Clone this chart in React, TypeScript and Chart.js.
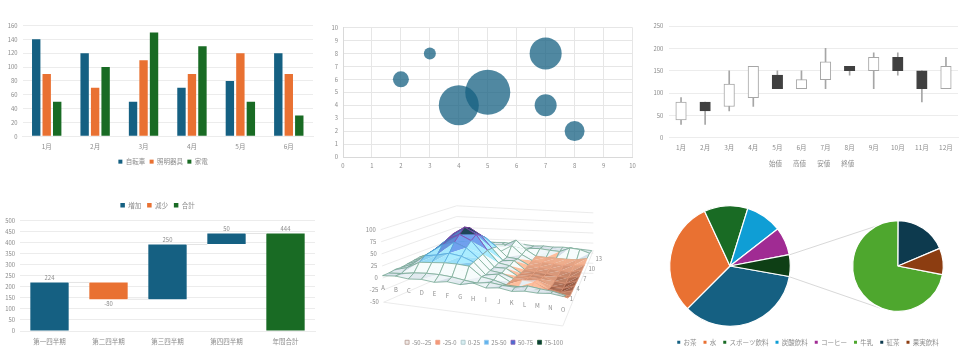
import React, { useEffect, useRef } from "react";
import { Chart, registerables } from "chart.js";

Chart.register(...registerables);
Chart.defaults.font.family = '"Noto Sans CJK JP", "Noto Sans", sans-serif';
Chart.defaults.font.size = 6.5;
Chart.defaults.color = "#8c8c8c";

// ---------- Data ----------
const salesMonths = ["1月", "2月", "3月", "4月", "5月", "6月"];
const bicycles = [140, 120, 50, 70, 80, 120];
const lighting = [90, 70, 110, 90, 120, 90];
const appliances = [50, 100, 150, 130, 50, 30];

const bubbleX = [2, 3, 4, 5, 7, 7, 8];
const bubbleY = [6, 8, 4, 5, 8, 4, 2];
const bubbleR = [8, 6, 20, 22.5, 16, 11, 10];

const stockMonths = ["1月", "2月", "3月", "4月", "5月", "6月", "7月", "8月", "9月", "10月", "11月", "12月"];
const stockOpen = [40, 80, 70, 90, 140, 110, 130, 160, 150, 180, 150, 110];
const stockHigh = [90, 80, 150, 160, 150, 150, 200, 160, 190, 190, 150, 180];
const stockLow = [30, 30, 60, 70, 110, 110, 110, 140, 110, 140, 80, 110];
const stockClose = [80, 60, 120, 160, 110, 130, 170, 150, 180, 150, 110, 160];
const stockSeries = ["始値", "高値", "安値", "終値"];

const quarterLabels = ["第一四半期", "第二四半期", "第三四半期", "第四四半期", "年間合計"];
const riseBars = [[0, 220], null, [144, 392], [394, 442], null];
const fallBars = [null, [144, 220], null, null, null];
const totalBars = [null, null, null, null, [0, 442]];
const barLabels = ["224", "-80", "250", "50", "444"];
const barLabelLevels = [220, 144, 392, 442, 442];
const connectorLevels = [220, 144, 392, 442];

const surfaceColumns = ["A", "B", "C", "D", "E", "F", "G", "H", "I", "J", "K", "L", "M", "N", "O"];
const surfaceRows = ["1", "4", "7", "10", "13"];
const surfaceBands = ["-50--25", "-25-0", "0-25", "25-50", "50-75", "75-100"];
const surfaceZ = [
  [5, 7, 4, 6, 3, 7, 4, 10, 3, 6, 2, 5, 4, 6, 3],
  [4, 6, 10, 12, 12, 10, 6, 3, 7, 4, 3, 8, 5, 3, -2],
  [5, 12, 26, 28, 30, 30, 28, 9, 5, -2, -3, -4, -6, -8, -14],
  [3, 14, 34, 38, 44, 40, 30, 6, 10, -3, 3, 2, -12, -16, -18],
  [4, 15, 36, 54, 62, 52, 32, 8, 5, -4, -5, -2, -18, -22, -16],
  [5, 16, 38, 62, 74, 62, 34, 8, 8, -6, -7, -8, -20, -22, -14],
  [6, 16, 40, 68, 85, 70, 36, 10, 6, -8, -9, -10, -18, -20, -12],
  [4, 15, 38, 62, 78, 62, 34, 8, 10, -8, -10, -12, -16, -16, -10],
  [6, 14, 30, 50, 56, 50, 30, 8, 6, -6, -8, -10, -12, -12, -6],
  [3, 12, 22, 30, 34, 30, 12, 28, 8, -4, -6, -7, -8, -6, -3],
  [5, 8, 12, 16, 18, 18, 20, 34, 12, -2, -3, -3, -3, -2, 3],
  [4, 6, 8, 8, 10, 8, 8, 6, 7, 8, 6, 5, 16, 14, 7],
  [3, 5, 4, 6, 5, 7, 5, 6, 4, 6, 5, 7, 6, 5, 4],
];

const drinkLegend = ["お茶", "水", "スポーツ飲料", "炭酸飲料", "コーヒー", "牛乳", "紅茶", "果実飲料"];
const drinkLegendColors = ["#156082", "#E97132", "#196B24", "#0F9ED5", "#A02B93", "#4EA72E", "#0D3A4E", "#8C3D11"];
const mainPieLabels = ["お茶", "水", "スポーツ飲料", "炭酸飲料", "コーヒー", "その他"];
const mainPieValues = [34.7, 30.6, 11.7, 9.7, 7.5, 5.8];
const mainPieColors = ["#156082", "#E97132", "#196B24", "#0F9ED5", "#A02B93", "#0E3F15"];
const subPieLabels = ["牛乳", "紅茶", "果実飲料"];
const subPieValues = [72, 18.6, 9.4];
const subPieColors = ["#4EA72E", "#0D3A4E", "#8C3D11"];

// ---------- Helpers ----------
const BLUE = "#156082";
const ORANGE = "#E97132";
const GREEN = "#196B24";
const GRID = "#ececec";
const FS = 6.5;
const NUM_FS = 5.9;
const GREY = "#8c8c8c";

const ticks = { color: GREY, font: { size: FS }, autoSkip: false, maxRotation: 0 };
const numTicks = { color: GREY, font: { size: NUM_FS }, autoSkip: false, maxRotation: 0 };
const grid = { color: GRID, drawTicks: false };
const noGrid = { display: false, drawTicks: false };

// Chart.js: a bottom legend is lineHeight + padding + 10 tall, its text starts padding below its top.
function bottomLegend(centerY: number, canvasH: number, plotBottom: number, p: number, fs = FS) {
  const lh = fs * 1.2;
  const top = centerY - p - lh / 2;
  return { top, padBottom: canvasH - top - (lh + p + 10), axisH: top - plotBottom };
}
const fixW = (w: number) => (s: any) => { s.width = w; };
const fixH = (h: number) => (s: any) => { s.height = h; };
// An empty axis on the right keeps the plot's right edge free of the full-width legend's centring.
const rightSpacer = (w: number) => ({
  position: "right", display: true, grid: { display: false, drawTicks: false }, border: { display: false },
  ticks: { display: false }, afterFit: fixW(w),
});

function base(extra: any) {
  return { responsive: false, maintainAspectRatio: false, animation: false, ...extra };
}

// ---------- Chart 1: clustered bars ----------
function clusteredConfig() {
  const lg = bottomLegend(161, 180, 135, 4.5);
  return {
    type: "bar",
    data: {
      labels: salesMonths,
      datasets: [
        { label: "自転車", data: bicycles, backgroundColor: BLUE },
        { label: "照明器具", data: lighting, backgroundColor: ORANGE },
        { label: "家電", data: appliances, backgroundColor: GREEN },
      ],
    },
    options: base({
      layout: { padding: { top: 25.5, right: 0, left: 0, bottom: lg.padBottom } },
      datasets: { bar: { categoryPercentage: 0.65, barPercentage: 0.8 } },
      scales: {
        x: { grid: noGrid, border: { color: GRID }, ticks: { ...ticks, padding: 6 }, afterFit: fixH(lg.axisH) },
        y: { min: 0, max: 160, grid, border: { display: false }, ticks: { ...numTicks, stepSize: 20, padding: 5 }, afterFit: fixW(22.5) },
        spacer: rightSpacer(13),
      },
      plugins: { legend: { position: "bottom", labels: { boxWidth: 4, boxHeight: 4, padding: 4.5, font: { size: FS } } }, tooltip: { enabled: false } },
    }),
  };
}

// ---------- Chart 2: bubble ----------
function bubbleConfig() {
  return {
    type: "bubble",
    data: {
      datasets: [
        {
          label: "bubble",
          data: bubbleX.map((x, i) => ({ x, y: bubbleY[i], r: bubbleR[i] })),
          backgroundColor: "rgba(21,96,130,0.75)",
          borderWidth: 0,
        },
      ],
    },
    options: base({
      layout: { padding: { top: 27.5, right: 0, left: 0, bottom: 0 } },
      scales: {
        x: { type: "linear", min: 0, max: 10, grid: { color: "#e6e6e6", drawTicks: false }, border: { color: "#d9d9d9" }, ticks: { ...numTicks, stepSize: 1, padding: 5 }, afterFit: fixH(23) },
        y: { min: 0, max: 10, grid: { color: "#e6e6e6", drawTicks: false }, border: { color: "#d9d9d9" }, ticks: { ...numTicks, stepSize: 1, padding: 5 }, afterFit: fixW(23) },
      },
      plugins: { legend: { display: false }, tooltip: { enabled: false } },
    }),
  };
}

// ---------- Chart 3: candlesticks ----------
function candleConfig() {
  const lg = bottomLegend(162.7, 180, 136.5, 7.8);
  const up = stockOpen.map((o, i) => stockClose[i] >= o);
  return {
    type: "bar",
    data: {
      labels: stockMonths,
      datasets: [
        {
          label: "body",
          data: stockOpen.map((o, i) => [o, stockClose[i]]),
          backgroundColor: up.map((u) => (u ? "#ffffff" : "#404040")),
          borderColor: up.map((u) => (u ? "#a6a6a6" : "#404040")),
          borderWidth: 1,
          borderSkipped: false,
          barThickness: 10.5,
        },
        {
          label: "wick",
          data: stockLow.map((l, i) => [l, stockHigh[i]]),
          backgroundColor: "#a6a6a6",
          barThickness: 1,
        },
      ],
    },
    options: base({
      layout: { padding: { top: 26, right: 0, left: 0, bottom: lg.padBottom } },
      datasets: { bar: { grouped: false } },
      scales: {
        x: { grid: noGrid, border: { color: GRID }, ticks: { ...ticks, padding: 6 }, afterFit: fixH(lg.axisH) },
        y: { min: 0, max: 250, grid, border: { display: false }, ticks: { ...numTicks, stepSize: 50, padding: 5.7 }, afterFit: fixW(19) },
        spacer: rightSpacer(12),
      },
      plugins: {
        legend: {
          position: "bottom",
          labels: {
            boxWidth: 0,
            boxHeight: 0,
            padding: 7.8,
            font: { size: FS },
            generateLabels: () =>
              stockSeries.map((text) => ({ text, fillStyle: "transparent", strokeStyle: "transparent", lineWidth: 0, fontColor: GREY })),
          },
        },
        tooltip: { enabled: false },
      },
    }),
  };
}

// ---------- Chart 4: waterfall ----------
function chartFont(size: number) {
  return `${size}px ${Chart.defaults.font.family}`;
}
const waterfallPlugin = {
  id: "waterfallAnnotations",
  afterDatasetsDraw(chart: any) {
    const { ctx, scales } = chart;
    const yS = scales.y;
    const xS = scales.x;
    const half = (xS.getPixelForValue(1) - xS.getPixelForValue(0)) * 0.325;
    ctx.save();
    ctx.strokeStyle = "#e4e4e4";
    ctx.lineWidth = 1;
    connectorLevels.forEach((lv, i) => {
      const y = yS.getPixelForValue(lv);
      ctx.beginPath();
      ctx.moveTo(xS.getPixelForValue(i) + half, y);
      ctx.lineTo(xS.getPixelForValue(i + 1) - half, y);
      ctx.stroke();
    });
    ctx.fillStyle = GREY;
    ctx.font = chartFont(NUM_FS);
    ctx.textAlign = "center";
    ctx.textBaseline = "middle";
    barLabels.forEach((t, i) => {
      const below = t.startsWith("-");
      ctx.fillText(t, xS.getPixelForValue(i), yS.getPixelForValue(barLabelLevels[i]) + (below ? 4.5 : -5));
    });
    ctx.restore();
  },
};
const legendGap = (gap: number) => ({
  id: "legendGap",
  beforeInit(chart: any) {
    const orig = chart.legend.fit;
    chart.legend.fit = function () {
      orig.call(chart.legend);
      this.height += gap;
    };
  },
});
function waterfallConfig() {
  return {
    type: "bar",
    data: {
      labels: quarterLabels,
      datasets: [
        { label: "増加", data: riseBars, backgroundColor: BLUE },
        { label: "減少", data: fallBars, backgroundColor: ORANGE },
        { label: "合計", data: totalBars, backgroundColor: GREEN },
      ],
    },
    options: base({
      layout: { padding: { top: 6.1, right: 5, left: 0, bottom: 0 } },
      datasets: { bar: { grouped: false, categoryPercentage: 1, barPercentage: 0.65 } },
      scales: {
        x: { grid: noGrid, border: { color: GRID }, ticks: { ...ticks, padding: 7 }, afterFit: fixH(26) },
        y: { min: 0, max: 500, grid, border: { display: false }, ticks: { ...numTicks, stepSize: 50, padding: 5 }, afterFit: fixW(20) },
      },
      plugins: { legend: { position: "top", labels: { boxWidth: 4.5, boxHeight: 4.5, padding: 6, font: { size: FS } } }, tooltip: { enabled: false } },
    }),
    plugins: [waterfallPlugin, legendGap(2.1)],
  };
}

// ---------- Chart 5: 3D surface, built of filled line datasets ----------
type Pt = { x: number; y: number };
type Corners = Record<"fl" | "fr" | "br" | "bl", { bx: number; by: number; hx: number; hy: number }>;
const SURF_OFFSET_X = 4;
const SURFACE_CORNERS: Corners = {
  fl: { bx: 128, by: 262, hx: -0.06, hy: -1.44 },
  fr: { bx: 670, by: 322, hx: 0.03, hy: -1.65 },
  br: { bx: 755, by: 185, hx: 0.1, hy: -1.15 },
  bl: { bx: 350, by: 152, hx: 0, hy: -1.05 },
};
const WALL_CORNERS: Corners = {
  fl: { bx: 128, by: 262, hx: -0.06, hy: -1.44 },
  fr: { bx: 670, by: 322, hx: 0.03, hy: -1.65 },
  br: { bx: 760, by: 188, hx: 0, hy: -1.2 },
  bl: { bx: 350, by: 175, hx: 0, hy: -1.28 },
};
function projectWith(cs: Corners, u: number, v: number, z: number): Pt {
  const { fl, fr, br, bl } = cs;
  const mix = (k: "bx" | "by" | "hx" | "hy") =>
    (fl[k] * (1 - u) + fr[k] * u) * (1 - v) + (bl[k] * (1 - u) + br[k] * u) * v;
  return { x: (mix("bx") + z * mix("hx")) / 3 - SURF_OFFSET_X, y: (mix("by") + z * mix("hy")) / 3 };
}
const project = (u: number, v: number, z: number) => projectWith(SURFACE_CORNERS, u, v, z);
const wallAt = (u: number, v: number, z: number) => projectWith(WALL_CORNERS, u, v, z);

const bandLight = [[232, 232, 232], [254, 190, 156], [246, 252, 252], [170, 236, 255], [112, 160, 238], [30, 70, 90]];
const bandDark = [[128, 128, 128], [146, 84, 62], [184, 198, 216], [72, 150, 208], [58, 86, 150], [18, 40, 60]];
const bandLine = ["#b58a78", "#f4a684", "#6aa188", "#4fa3d8", "#8a3fa8", "#20405a"];
const bandLineWidth = [0.5, 0.4, 0.7, 0.7, 0.7, 0.7];
const bandLegendFill = ["#efe9e6", "#f4987a", "#d8eef2", "#62b4ee", "#4a70d0", "#0c3a3a"];
const bandLegendStroke = ["#b59a90", "#f0a080", "#a8c4c8", "#9ccbef", "#8a5ab8", "#1a5a30"];
const bandOf = (z: number) => Math.max(0, Math.min(5, Math.floor((z + 50) / 25)));

function surfaceDatasets() {
  const rows = surfaceZ.length;
  const cols = surfaceZ[0].length;
  const out: any[] = [];
  const line = (pts: Pt[], color: string, width: number) => ({
    data: pts, showLine: true, pointRadius: 0, borderColor: color, borderWidth: width, fill: false, tension: 0,
  });
  const wall = "#e6e6e6";
  for (let z = -50; z <= 100; z += 25) {
    out.push(line([wallAt(0, 0, z), wallAt(0, 1, z), wallAt(1, 1, z)], wall, 0.8));
  }
  out.push(line([wallAt(0, 0, -50), wallAt(1, 0, -50), wallAt(1, 1, 7)], wall, 0.8));

  const tri = (a: Pt, b: Pt, c: Pt, avg: number, dzdu: number, dzdv: number) => {
    const b0 = bandOf(avg);
    // Deeper parts of the dip read darker, the shallow rim lighter.
    const depth = b0 === 1 ? (avg + 10) * 0.035 : 0;
    const t = Math.max(0, Math.min(1, 0.5 + dzdv * 0.035 - dzdu * 0.03 + depth));
    const m = bandDark[b0].map((d, k) => Math.round(d + (bandLight[b0][k] - d) * t));
    const color = `rgb(${m[0]},${m[1]},${m[2]})`;
    return { data: [a, b, c], showLine: true, pointRadius: 0, fill: "shape", backgroundColor: color, borderColor: color, borderWidth: 0.4, tension: 0 };
  };
  for (let r = rows - 2; r >= 0; r--) {
    for (let c = 0; c < cols - 1; c++) {
      const u0 = c / (cols - 1);
      const u1 = (c + 1) / (cols - 1);
      const v0 = r / (rows - 1);
      const v1 = (r + 1) / (rows - 1);
      const za = surfaceZ[r][c];
      const zb = surfaceZ[r][c + 1];
      const zc = surfaceZ[r + 1][c + 1];
      const zd = surfaceZ[r + 1][c];
      const a = project(u0, v0, za);
      const b = project(u1, v0, zb);
      const cc = project(u1, v1, zc);
      const d = project(u0, v1, zd);
      out.push(tri(a, d, cc, (za + zd + zc) / 3, zc - zd, zd - za));
      out.push(tri(a, b, cc, (za + zb + zc) / 3, zb - za, zc - zb));
      const band = bandOf((za + zb + zc + zd) / 4);
      out.push(line([a, b, cc, d, a], bandLine[band], bandLineWidth[band]));
    }
  }
  return out.reverse();
}
const surfaceLabelsPlugin = {
  id: "surfaceLabels",
  afterDraw(chart: any) {
    const { ctx, scales } = chart;
    const put = (t: string, p: Pt, dx: number, dy: number, align: CanvasTextAlign) => {
      ctx.textAlign = align;
      ctx.fillText(t, scales.x.getPixelForValue(p.x) + dx, scales.y.getPixelForValue(p.y) + dy);
    };
    ctx.save();
    ctx.fillStyle = GREY;
    ctx.font = chartFont(NUM_FS);
    ctx.textBaseline = "middle";
    for (let z = -50; z <= 100; z += 25) put(String(z), wallAt(0, 0, z), -5, 0, "right");
    surfaceColumns.forEach((t, i) => put(t, wallAt(i / (surfaceColumns.length - 1), 0, -20), 0, 0, "center"));
    surfaceRows.forEach((t, i) => {
      const v = i / (surfaceRows.length - 1);
      put(t, project(1, v, 0), 8 - v, 1 + 5.7 * v, "center");
    });
    ctx.restore();
  },
};
function surfaceConfig() {
  const lg = bottomLegend(151.7, 167, 0, 4.5, NUM_FS);
  return {
    type: "scatter",
    data: { datasets: surfaceDatasets() },
    options: base({
      layout: { padding: { top: 0, left: 0, right: 0, bottom: lg.padBottom } },
      scales: {
        x: { type: "linear", display: false, min: 0, max: 280 },
        y: { type: "linear", display: false, min: 0, max: lg.top, reverse: true },
      },
      plugins: {
        legend: {
          position: "bottom",
          labels: {
            boxWidth: 4,
            boxHeight: 4,
            padding: 4.5,
            font: { size: NUM_FS },
            generateLabels: () =>
              surfaceBands.map((text, i) => ({ text, fillStyle: bandLegendFill[i], strokeStyle: bandLegendStroke[i], lineWidth: 0.8, fontColor: GREY })),
          },
        },
        tooltip: { enabled: false },
      },
    }),
    plugins: [surfaceLabelsPlugin],
  };
}

// ---------- Chart 6: pie of pie ----------
const PIE_MAIN = { cx: 730, cy: 266.3, r: 60.3, size: 130 };
const PIE_SUB = { cx: 897.5, cy: 266.3, r: 45.3, size: 100 };
const MAIN_ROTATION = 100;
const SUB_ROTATION = 101;
const LEGEND_LEFT = 648;
const LEGEND_TOP = 190;

function pieConfig(labels: string[], values: number[], colors: string[], rotation: number, radius: number) {
  return {
    type: "pie",
    data: { labels, datasets: [{ data: values, backgroundColor: colors, borderColor: "#ffffff", borderWidth: 1.2 }] },
    options: base({ rotation, radius, plugins: { legend: { display: false }, tooltip: { enabled: false } } }),
  };
}
const connectorPlugin = {
  id: "pieConnectors",
  afterDraw(chart: any) {
    const ctx = chart.ctx;
    const sum = mainPieValues.reduce((a, b) => a + b, 0);
    const lastShare = (mainPieValues[mainPieValues.length - 1] / sum) * 2 * Math.PI;
    const start = ((MAIN_ROTATION - 90) * Math.PI) / 180;
    const from = (a: number): Pt => ({ x: PIE_MAIN.cx + PIE_MAIN.r * Math.cos(a), y: PIE_MAIN.cy + PIE_MAIN.r * Math.sin(a) });
    const to = (deg: number): Pt => ({
      x: PIE_SUB.cx + PIE_SUB.r * Math.cos((deg * Math.PI) / 180),
      y: PIE_SUB.cy + PIE_SUB.r * Math.sin((deg * Math.PI) / 180),
    });
    const pairs = [[from(start - lastShare), to(243.6)], [from(start), to(112.6)]];
    ctx.save();
    ctx.strokeStyle = "#d4d4d4";
    ctx.lineWidth = 0.9;
    pairs.forEach(([a, b]) => {
      ctx.beginPath();
      ctx.moveTo(a.x - LEGEND_LEFT, a.y - LEGEND_TOP);
      ctx.lineTo(b.x - LEGEND_LEFT, b.y - LEGEND_TOP);
      ctx.stroke();
    });
    ctx.restore();
  },
};
function drinkLegendConfig() {
  const lg = bottomLegend(151.7, 167, 0, 7);
  return {
    type: "pie",
    data: { labels: drinkLegend, datasets: [{ data: drinkLegend.map(() => 1), backgroundColor: drinkLegendColors, borderWidth: 0, radius: 0 }] },
    options: base({
      layout: { padding: { bottom: lg.padBottom } },
      plugins: { legend: { position: "bottom", labels: { boxWidth: 3, boxHeight: 3, padding: 7, font: { size: FS } } }, tooltip: { enabled: false } },
    }),
    plugins: [connectorPlugin],
  };
}

// ---------- Component ----------
function Panel({ x, y, w, h, make }: { x: number; y: number; w: number; h: number; make: () => any }) {
  const ref = useRef<HTMLCanvasElement>(null);
  useEffect(() => {
    const chart = new Chart(ref.current as HTMLCanvasElement, make());
    return () => chart.destroy();
  }, []);
  return <canvas ref={ref} width={w} height={h} style={{ position: "absolute", left: x, top: y, width: w, height: h, display: "block" }} />;
}

export default function App() {
  return (
    <div style={{ position: "absolute", left: 0, top: 0, width: 970, height: 357, background: "#fff", overflow: "hidden", filter: "blur(0.4px)" }}>
      <Panel x={0} y={0} w={326} h={180} make={clusteredConfig} />
      <Panel x={320} y={0} w={335} h={180} make={bubbleConfig} />
      <Panel x={650} y={0} w={320} h={180} make={candleConfig} />
      <Panel x={0} y={190} w={320} h={167} make={waterfallConfig} />
      <Panel x={344} y={190} w={280} h={167} make={surfaceConfig} />
      <Panel x={LEGEND_LEFT} y={LEGEND_TOP} w={320} h={167} make={drinkLegendConfig} />
      <Panel x={PIE_MAIN.cx - PIE_MAIN.size / 2} y={PIE_MAIN.cy - PIE_MAIN.size / 2} w={PIE_MAIN.size} h={PIE_MAIN.size}
        make={() => pieConfig(mainPieLabels, mainPieValues, mainPieColors, MAIN_ROTATION, PIE_MAIN.r)} />
      <Panel x={PIE_SUB.cx - PIE_SUB.size / 2} y={PIE_SUB.cy - PIE_SUB.size / 2} w={PIE_SUB.size} h={PIE_SUB.size}
        make={() => pieConfig(subPieLabels, subPieValues, subPieColors, SUB_ROTATION, PIE_SUB.r)} />
    </div>
  );
}
